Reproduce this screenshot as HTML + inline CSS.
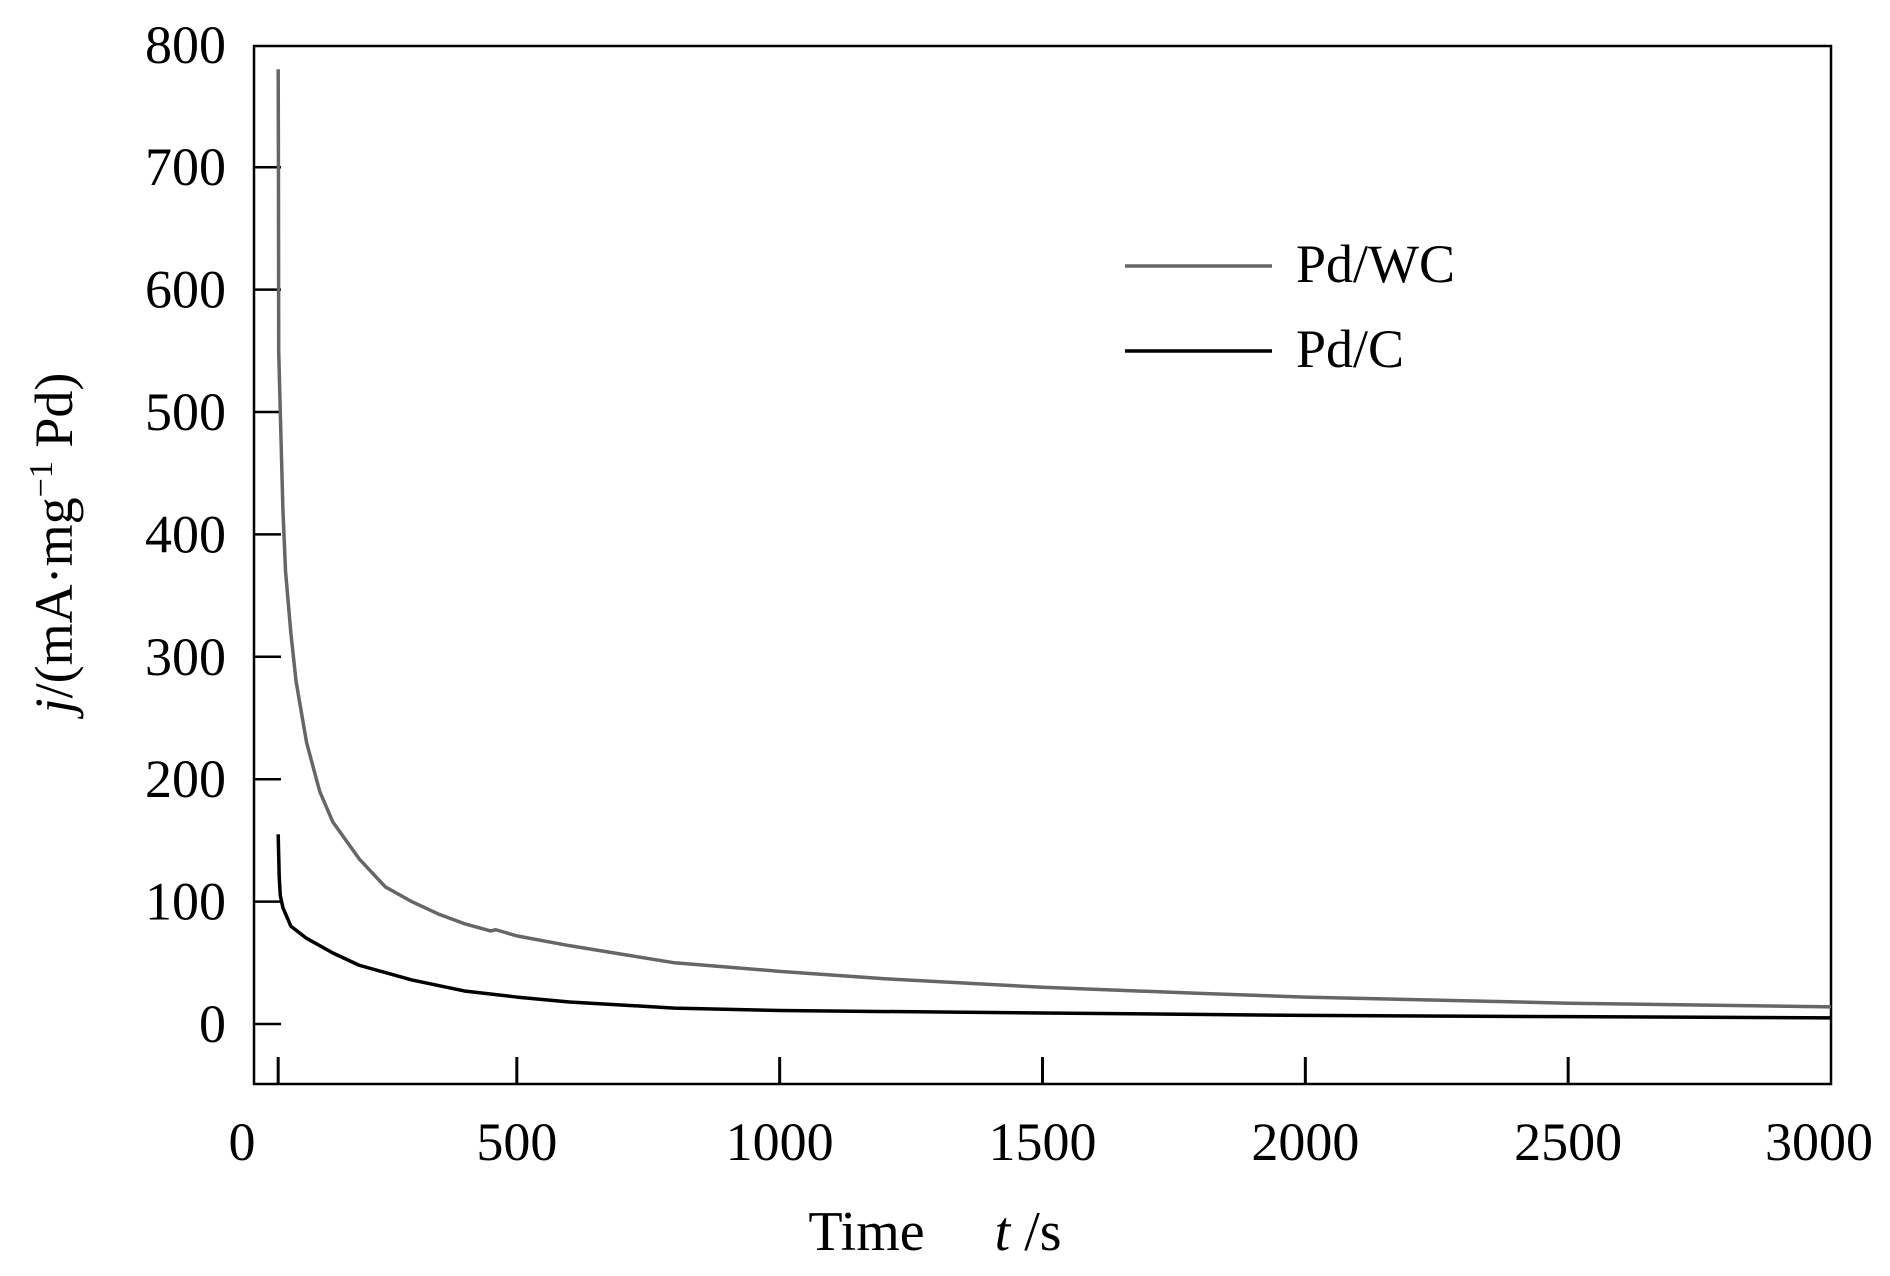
<!DOCTYPE html>
<html><head><meta charset="utf-8"><style>
body{margin:0;background:#fff}
svg{display:block;font-family:"Liberation Serif",serif}
</style></head><body>
<svg id="chart" width="1890" height="1276" viewBox="0 0 1890 1276">
<rect width="1890" height="1276" fill="#fff"/>
<g id="plot"></g>
<g>
<line x1="1125" y1="266" x2="1272" y2="266" stroke="#666" stroke-width="3.5"/>
<text x="1296" y="282" font-size="54">Pd/WC</text>
<line x1="1125" y1="351" x2="1272" y2="351" stroke="#000" stroke-width="3.5"/>
<text x="1296" y="367" font-size="54">Pd/C</text>
</g>
<text x="935" y="1250" font-size="56" text-anchor="middle">Time&#160;&#160;&#160;&#160;&#160;<tspan font-style="italic">t</tspan> /s</text>
<text transform="translate(72,543) rotate(-90)" font-size="54" text-anchor="middle"><tspan font-style="italic">j</tspan>/(mA·mg<tspan font-size="34" dy="-20">−1</tspan><tspan dy="20"> Pd)</tspan></text>
</svg>
<script>
const xTicks=[0,500,1000,1500,2000,2500,3000];
const yTicks=[0,100,200,300,400,500,600,700,800];
const wcT=[46,46.5,47,50,55,60,70,80,100,125,150,200,250,300,350,400,450,460,500,600,700,800,1000,1200,1500,1800,2000,2500,3000];
const wcJ=[780,700,550,500,420,370,320,280,230,190,165,135,112,100,90,82,76,77,72,64,57,50,43,37,30,25,22,17,14];
const cT=[46,48,50,55,70,100,150,200,300,400,500,600,800,1000,1500,2000,2500,3000];
const cJ=[155,120,105,95,80,70,58,48,36,27,22,18,13,11,9,7,6,5];
const L=254,R=1831,T=46,B=1084;
const X=t=>L+t/3000*(R-L);
const Y=v=>1024-v*1.224;
const NS="http://www.w3.org/2000/svg";
const g=document.getElementById('plot');
function mk(tag,attrs){const e=document.createElementNS(NS,tag);for(const k in attrs)e.setAttribute(k,attrs[k]);g.appendChild(e);return e;}
const frame=mk('rect',{x:L,y:T,width:R-L,height:B-T,fill:'none',stroke:'#000','stroke-width':2.5});


yTicks.forEach(v=>{
  if(v<800){const tk=mk('line',{x1:L,x2:L+27,y1:Y(v),y2:Y(v),stroke:'#000','stroke-width':2.5});
  
  }
  const tx=mk('text',{x:226,y:Y(v)+18,'font-size':54,'text-anchor':'end'});
  tx.textContent=v;
  
  
});
[46].concat(xTicks.slice(1,6)).forEach(v=>{
  const tk=mk('line',{x1:X(v),x2:X(v),y1:B,y2:B-27,stroke:'#000','stroke-width':3});
  
  
});
xTicks.forEach(v=>{
  const tx=mk('text',{x:v===0?X(v)-12:(v===3000?X(v)-12:X(v)),y:1160,'font-size':54,'text-anchor':'middle'});
  tx.textContent=v;
  
  
});
function line(ts,js,color,name){
  const p=mk('polyline',{points:ts.map((t,i)=>X(t)+','+Y(js[i])).join(' '),fill:'none',stroke:color,'stroke-width':3.5,'stroke-linejoin':'round'});
  
  
}
line(wcT,wcJ,'#666','series-pdwc');
line(cT,cJ,'#000','series-pdc');
</script>
</body></html>
